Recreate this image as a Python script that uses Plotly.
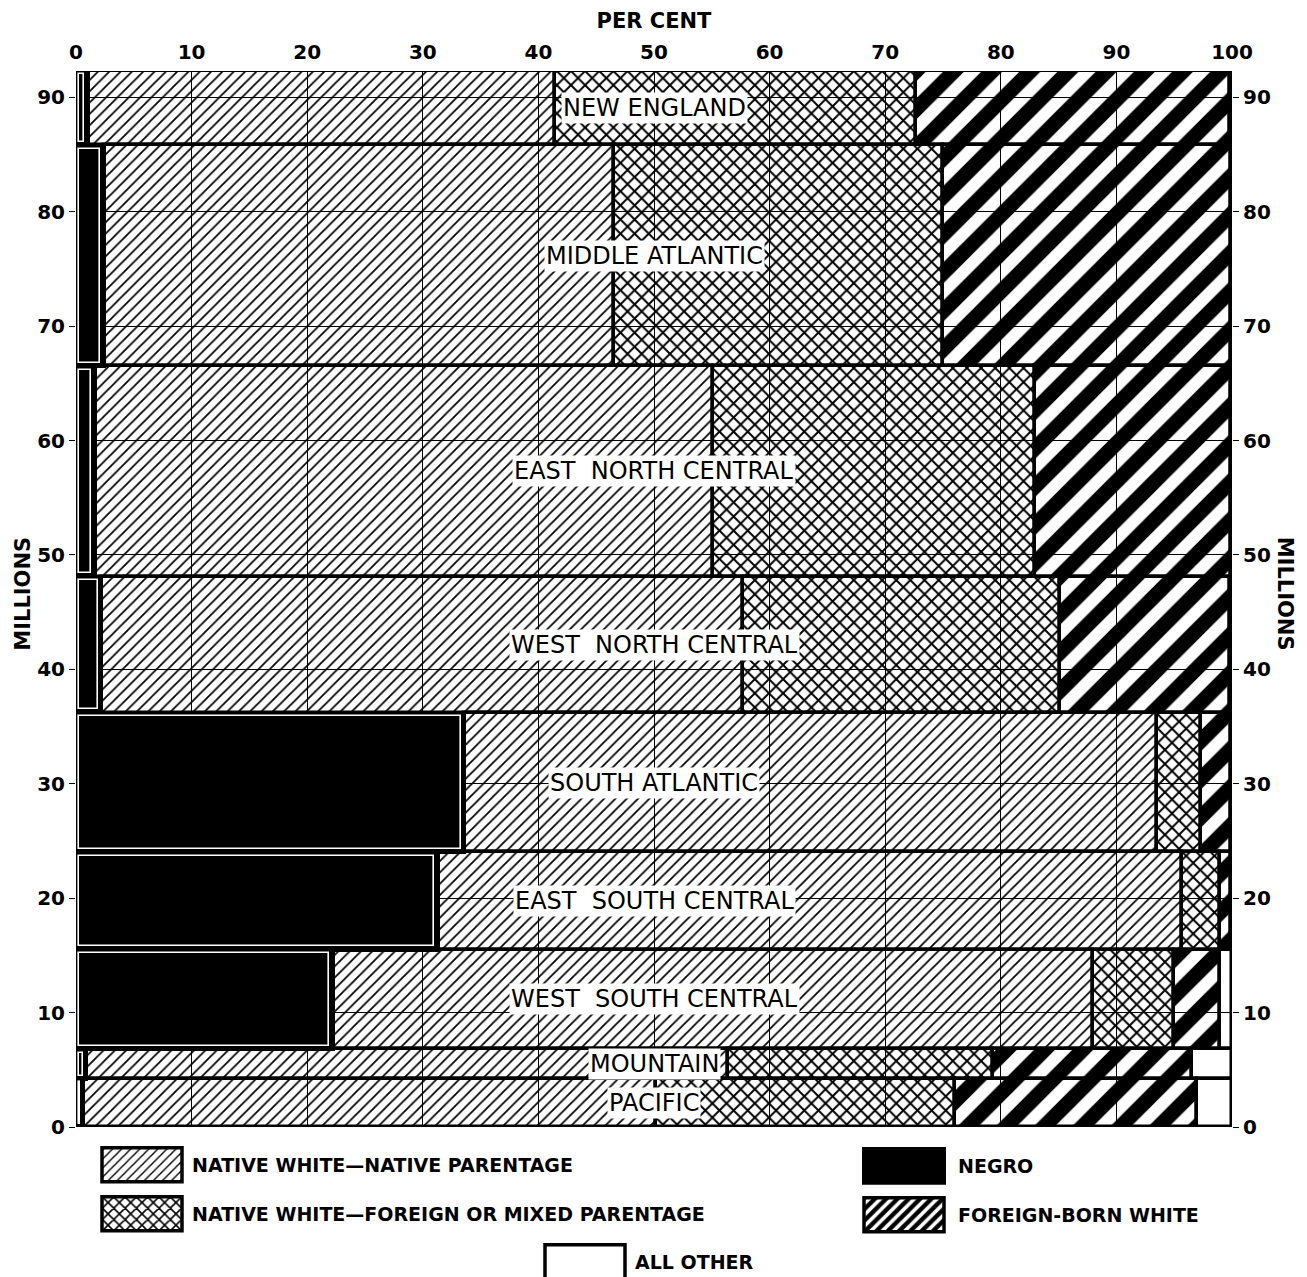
import numpy as np
import plotly.graph_objects as go

# ---- data (1910 census style, regions top to bottom) ----
regions = ["NEW ENGLAND", "MIDDLE\u00a0ATLANTIC", "EAST\u00a0\u00a0NORTH\u00a0CENTRAL",
           "WEST\u00a0\u00a0NORTH\u00a0CENTRAL", "SOUTH\u00a0ATLANTIC",
           "EAST\u00a0\u00a0SOUTH\u00a0CENTRAL", "WEST\u00a0\u00a0SOUTH\u00a0CENTRAL",
           "MOUNTAIN", "PACIFIC"]
population_millions = [6.5, 19.3, 18.4, 11.9, 12.2, 8.5, 8.7, 2.6, 4.2]

negro = [1.0, 2.4, 1.6, 2.2, 33.6, 31.3, 22.2, 0.9, 0.6]
native_native = [40.4, 44.1, 53.5, 55.5, 59.9, 64.4, 65.8, 55.5, 49.6]
native_foreign = [31.3, 28.5, 27.9, 27.4, 3.8, 3.3, 7.0, 22.9, 25.8]
foreign_born = [27.1, 24.9, 16.9, 14.7, 2.6, 0.9, 4.0, 17.2, 21.0]
all_other = [0.2, 0.1, 0.1, 0.2, 0.1, 0.1, 1.0, 3.5, 3.0]

x_ticks = [0, 10, 20, 30, 40, 50, 60, 70, 80, 90, 100]
y_ticks = [0, 10, 20, 30, 40, 50, 60, 70, 80, 90]

# ---- geometry from data ----
pop = np.array(population_millions)
tops = np.cumsum(pop[::-1])[::-1]
centers = tops - pop / 2
total = float(pop.sum())

series = np.array([negro, native_native, native_foreign, foreign_born, all_other])
bases = np.vstack([np.zeros(len(pop)), np.cumsum(series, axis=0)[:-1]])

FONT = "DejaVu Sans, Liberation Sans, Arial, sans-serif"
CLEAR = "rgba(255,255,255,0)"
LW = 3.5
INSET_X = 0.3   # style: inset of the white inner outline (per cent units)
INSET_Y = 0.3   # style: inset of the white inner outline (million units)

fig = go.Figure()

def add_bar(name, idx, color, pattern, legend, lw=LW):
    fig.add_trace(go.Bar(
        orientation="h", y=centers, x=series[idx], base=bases[idx], width=pop,
        name=name, legend=legend,
        marker=dict(color=color, line=dict(color="black", width=lw), pattern=pattern),
        hoverinfo="skip"))

def pat(shape, size, solidity):
    return dict(shape=shape, size=size, solidity=solidity, fgcolor="black",
                bgcolor=CLEAR, fgopacity=1, fillmode="replace")

add_bar("NATIVE WHITE\u2014NATIVE PARENTAGE", 1, CLEAR, pat("/", 8, 0.22), "legend")
add_bar("NATIVE WHITE\u2014FOREIGN OR MIXED PARENTAGE", 2, CLEAR, pat("x", 10, 0.36), "legend2")
add_bar("FOREIGN-BORN WHITE", 3, CLEAR, pat("/", 27, 0.55), "legend4")
add_bar("ALL OTHER", 4, CLEAR, None, "legend5")
add_bar("NEGRO", 0, "black", None, "legend3", lw=4)

# white inner outline of the negro blocks (inset from the same data)
neg = series[0]
fig.add_trace(go.Bar(
    orientation="h", y=centers, x=np.maximum(neg - 2 * INSET_X, 0.05),
    base=bases[0] + INSET_X, width=pop - 2 * INSET_Y, showlegend=False,
    legend="legend3", marker=dict(color=CLEAR, line=dict(color="white", width=1.6)),
    hoverinfo="skip"))

# region labels
for name, yc in zip(regions, centers):
    fig.add_annotation(x=50, y=yc, text=name, showarrow=False, xref="x", yref="y",
                       bgcolor="white", borderpad=1,
                       font=dict(family=FONT, size=24, color="black"))

# axis titles
titlefont = dict(family=FONT, size=21, color="black", weight="bold")
fig.add_annotation(x=-0.058, y=0.505, xref="paper", yref="paper", text="MILLIONS",
                   textangle=-90, showarrow=False, font=titlefont)
fig.add_annotation(x=1.058, y=0.505, xref="paper", yref="paper", text="MILLIONS",
                   textangle=90, showarrow=False, font=titlefont)

tickfont = dict(family=FONT, size=20, color="black", weight="bold")
fig.update_layout(
    width=1307, height=1277,
    margin=dict(l=76, r=75, t=71, b=150, autoexpand=False),
    plot_bgcolor="white", paper_bgcolor="white",
    barmode="overlay", bargap=0,
    font=dict(family=FONT, color="black"),
    xaxis=dict(range=[0, 100], side="top", tickvals=x_ticks, showgrid=True,
               gridcolor="black", gridwidth=1, zeroline=False, showline=False,
               ticks="", tickfont=tickfont, automargin=False, ticklabelstandoff=7,
               title=dict(text="PER CENT", font=titlefont, standoff=5)),
    yaxis=dict(range=[0, total], tickvals=y_ticks, showgrid=True, gridcolor="black",
               gridwidth=1, zeroline=False, showline=False, ticks="outside",
               ticklen=6, tickcolor="black", tickfont=tickfont, automargin=False),
    yaxis2=dict(range=[0, total], tickvals=y_ticks, overlaying="y", side="right",
                anchor="x", showgrid=False, zeroline=False, showline=False,
                ticks="outside", ticklen=6, tickcolor="black", tickfont=tickfont,
                automargin=False),
)

legfont = dict(family=FONT, size=19, color="black", weight="bold")
def leg(x, y, iw=90):
    return dict(x=x, y=y, xref="container", yref="container", xanchor="left",
                yanchor="middle", itemwidth=iw, font=legfont, bgcolor=CLEAR,
                borderwidth=0)

fig.update_layout(
    legend=leg(92 / 1307, 1 - 1165 / 1277),
    legend2=leg(92 / 1307, 1 - 1214 / 1277),
    legend3=leg(850 / 1307, 1 - 1166 / 1277, 98),
    legend4=leg(850 / 1307, 1 - 1215 / 1277, 98),
    legend5=leg(535 / 1307, 1 - 1262 / 1277),
)

# invisible helper so the right axis is drawn
fig.add_trace(go.Scatter(x=[None], y=[None], yaxis="y2", showlegend=False, hoverinfo="skip"))

post = """
document.body.style.margin='0';
var gd = document.getElementById('{plot_id}');
function fixLegend(){
  document.querySelectorAll('g.legendpoints path').forEach(function(p){
    p.setAttribute('d','M-40,-17H40V17H-40Z');
  });
}
fixLegend();
setTimeout(fixLegend, 50);
setTimeout(fixLegend, 300);
setTimeout(fixLegend, 1000);
if (gd && gd.on) { gd.on('plotly_afterplot', fixLegend); }
"""
fig.write_html("out.html", post_script=post, config={"displayModeBar": False})
